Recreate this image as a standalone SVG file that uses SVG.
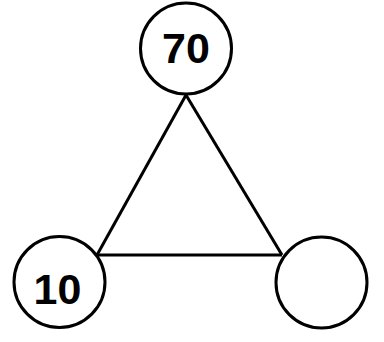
<svg xmlns="http://www.w3.org/2000/svg" width="384" height="342" viewBox="0 0 384 342">
<style>
.n{fill:#fff;stroke:#000;stroke-width:3}
.e{stroke:#000;stroke-width:3;fill:none}
</style>
<rect width="384" height="342" fill="#fff"/>
<g id="edges">
<line class="e" x1="186" y1="95" x2="97" y2="255"/>
<line class="e" x1="186" y1="95" x2="282" y2="255"/>
<line class="e" x1="97" y1="255" x2="282" y2="255"/>
</g>
<g font-family="'Liberation Sans', Arial, sans-serif" font-weight="bold" font-size="43" text-anchor="middle" fill="#000">
<g id="n70"><circle class="n" cx="186" cy="48.5" r="45.5"/><text x="186" y="63">70</text></g>
<g id="n10"><circle class="n" cx="59.5" cy="282" r="45.5"/><text x="57.5" y="304">10</text></g>
</g>
<g id="nempty"><circle class="n" cx="321.5" cy="282.5" r="45.5"/></g>
</svg>
